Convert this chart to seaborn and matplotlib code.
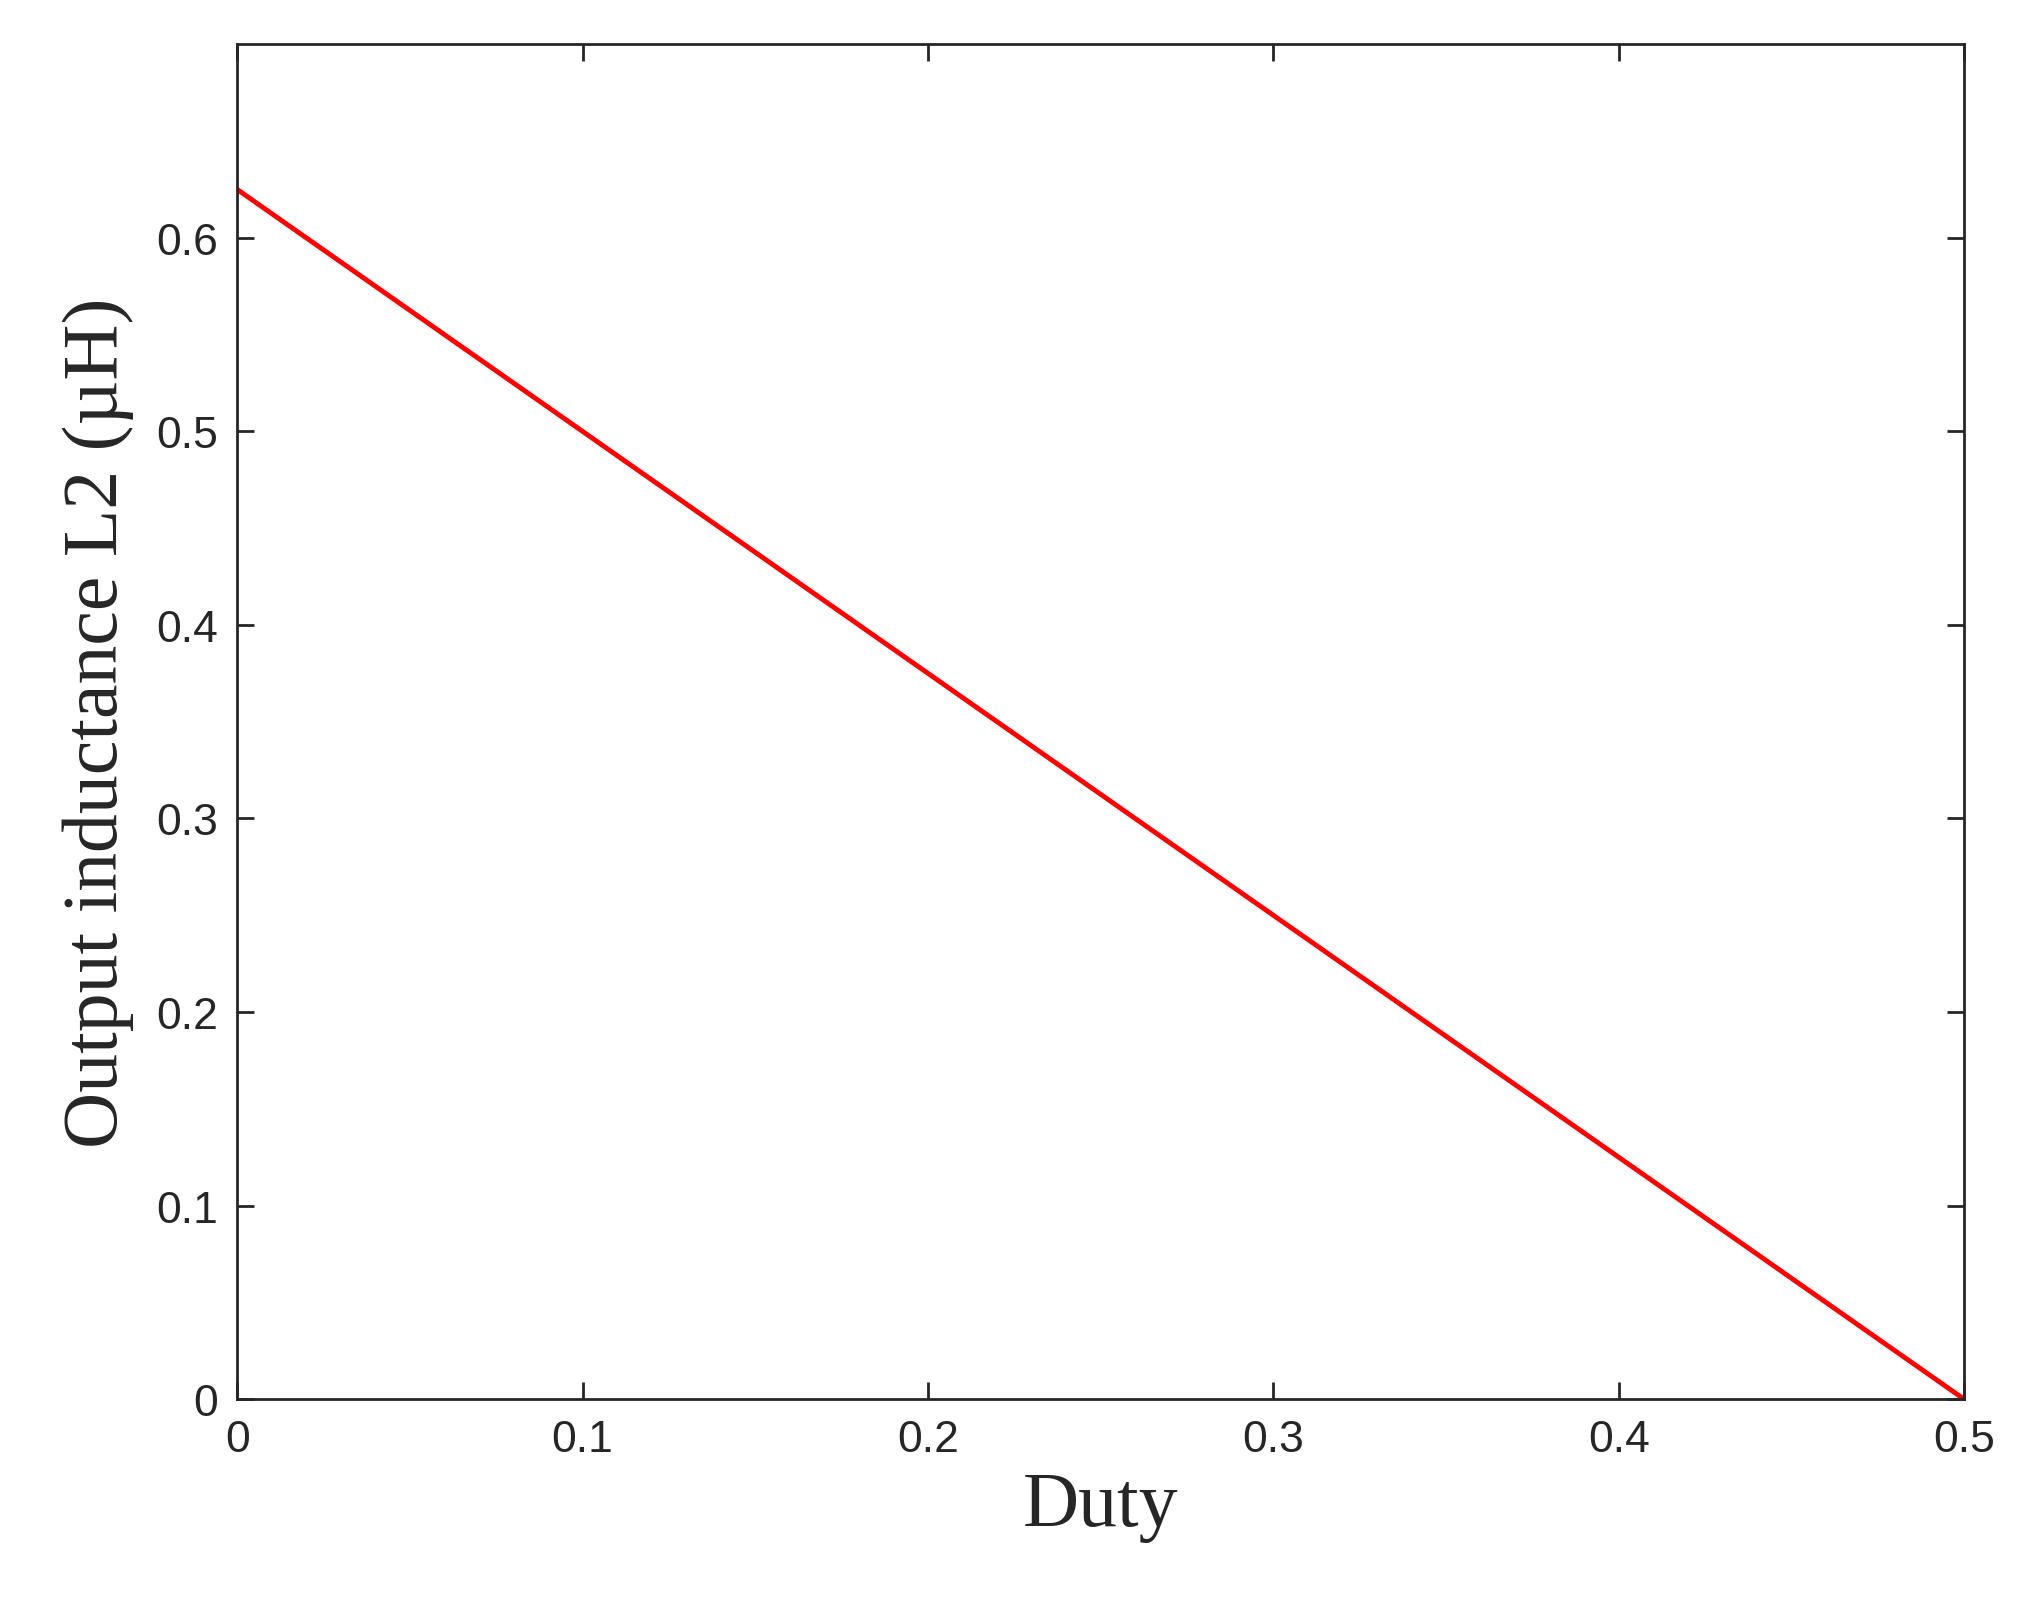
import matplotlib
matplotlib.use("Agg")
import matplotlib.pyplot as plt
import seaborn as sns
import pandas as pd

# Data: output inductance vs duty
duty = [0.0, 0.1, 0.2, 0.3, 0.4, 0.5]
inductance = [0.625, 0.5, 0.375, 0.25, 0.125, 0.0]
df = pd.DataFrame({"Duty": duty, "L2": inductance})

sns.set_style("ticks")
plt.rcParams['font.family'] = ['Liberation Sans', 'DejaVu Sans']

fig = plt.figure(figsize=(20.27, 16.15), dpi=100)
ax = fig.add_axes([0.117, 0.133, 0.852, 0.839])
sns.lineplot(data=df, x="Duty", y="L2", color="red", linewidth=3.5, ax=ax)

ax.set_xlim(0, 0.5)
ax.set_ylim(0, 0.7)
ax.set_xticks([0, 0.1, 0.2, 0.3, 0.4, 0.5])
ax.set_xticklabels(["0", "0.1", "0.2", "0.3", "0.4", "0.5"])
ax.set_yticks([0, 0.1, 0.2, 0.3, 0.4, 0.5, 0.6])
ax.set_yticklabels(["0", "0.1", "0.2", "0.3", "0.4", "0.5", "0.6"])
ax.tick_params(direction="in", top=True, right=True, length=12, width=2,
               labelsize=32, colors="#262626", pad=14)
for s in ax.spines.values():
    s.set_linewidth(2)
    s.set_color("#262626")

ax.set_xlabel("Duty", fontsize=56, family="Liberation Serif", labelpad=8)
ax.set_ylabel("Output inductance L2 (\u00b5H)", fontsize=56,
              family="Liberation Serif", labelpad=16)

fig.savefig("out.png", dpi=100, facecolor="white")
